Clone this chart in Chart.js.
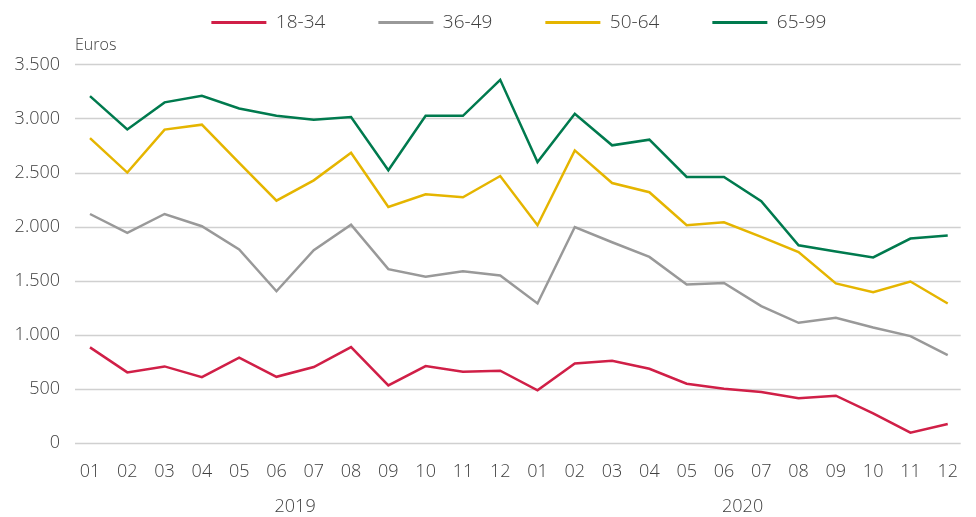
<!DOCTYPE html>
<html>
<head>
<meta charset="utf-8">
<script src="https://cdn.jsdelivr.net/npm/chart.js@4.4.0/dist/chart.umd.min.js"></script>
<style>
  html, body { margin: 0; padding: 0; background: #fff; }
  #wrap { width: 976px; height: 517px; }
</style>
</head>
<body>
<div id="wrap"><canvas id="ageChart"></canvas></div>
<script>
const months = ["01","02","03","04","05","06","07","08","09","10","11","12",
                "01","02","03","04","05","06","07","08","09","10","11","12"];
const years = ["2019", "2020"];
const yTicks = [0, 500, 1000, 1500, 2000, 2500, 3000, 3500];

const age18_34 = [884, 653, 708, 609, 788, 612, 702, 886, 533, 711, 658, 668,
                  487, 736, 760, 686, 548, 501, 471, 413, 437, 274, 95, 175];
const age36_49 = [2117, 1942, 2117, 2004, 1789, 1403, 1782, 2019, 1607, 1536, 1588, 1548,
                  1290, 1997, 1856, 1720, 1465, 1480, 1265, 1111, 1157, 1068, 988, 812];
const age50_64 = [2819, 2500, 2897, 2943, 2590, 2241, 2428, 2684, 2182, 2299, 2271, 2468,
                  2013, 2705, 2403, 2318, 2013, 2041, 1905, 1766, 1475, 1394, 1493, 1290];
const age65_99 = [3207, 2899, 3149, 3210, 3093, 3025, 2989, 3013, 2521, 3025, 3025, 3358,
                  2597, 3044, 2752, 2804, 2459, 2459, 2235, 1828, 1770, 1715, 1890, 1918];

const textColor = "#404040";
const fontFamily = "'Open Sans', 'Noto Sans', sans-serif";

// horizontal grid lines run a bit wider than the data, plus the "Euros" label
const gridAndUnit = {
  id: "gridAndUnit",
  beforeDatasetsDraw(chart) {
    const ctx = chart.ctx;
    const y = chart.scales.y;
    const area = chart.chartArea;
    ctx.save();
    ctx.strokeStyle = "#d0d0d0";
    ctx.lineWidth = 1.5;
    y.ticks.forEach(function (t) {
      const py = Math.round(y.getPixelForValue(t.value)) + 0.5;
      ctx.beginPath();
      ctx.moveTo(area.left - 15, py);
      ctx.lineTo(area.right + 13, py);
      ctx.stroke();
    });
    ctx.fillStyle = textColor;
    ctx.font = "300 16px " + fontFamily;
    ctx.textAlign = "left";
    ctx.textBaseline = "middle";
    ctx.fillText("Euros", area.left - 15, area.top - 19);
    ctx.restore();
  },
};

const ctx = document.getElementById("ageChart").getContext("2d");
new Chart(ctx, {
  type: "line",
  data: {
    labels: months,
    datasets: [
      { label: "18-34", data: age18_34, borderColor: "#d01f47", backgroundColor: "#d01f47" },
      { label: "36-49", data: age36_49, borderColor: "#999999", backgroundColor: "#999999" },
      { label: "50-64", data: age50_64, borderColor: "#e5b500", backgroundColor: "#e5b500" },
      { label: "65-99", data: age65_99, borderColor: "#007a4e", backgroundColor: "#007a4e" },
    ],
  },
  options: {
    responsive: true,
    maintainAspectRatio: false,
    animation: false,
    // negative top padding: the wide legend padding would otherwise push it down
    layout: { padding: { top: -40, right: 16, bottom: 0, left: 0 } },
    elements: {
      line: { borderWidth: 2.5, tension: 0 },
      point: { radius: 0 },
    },
    plugins: {
      legend: {
        position: "top",
        fullSize: false,
        labels: {
          usePointStyle: true,
          pointStyleWidth: 55,
          padding: 53,
          color: textColor,
          font: { family: fontFamily, size: 19, weight: "300" },
          generateLabels(chart) {
            return chart.data.datasets.map((ds, i) => ({
              text: ds.label,
              datasetIndex: i,
              pointStyle: "line",
              strokeStyle: ds.borderColor,
              fillStyle: ds.borderColor,
              lineWidth: 3,
              fontColor: textColor,
              hidden: false,
            }));
          },
        },
      },
      // empty subtitle only keeps a gap between the legend and the plot
      subtitle: {
        display: true,
        text: "",
        position: "top",
        weight: 500,
        font: { size: 12 },
        padding: { top: 0, bottom: 8 },
      },
      tooltip: { enabled: false },
    },
    scales: {
      x: {
        type: "category",
        offset: false,
        grid: { display: false, drawTicks: false },
        border: { display: false },
        ticks: {
          padding: 18,
          maxRotation: 0,
          autoSkip: false,
          color: textColor,
          font: { family: fontFamily, size: 18, weight: "300" },
        },
        afterFit(scale) { scale.height = 38; },
      },
      year: {
        type: "linear",
        position: "bottom",
        min: 0,
        max: 23,
        grid: { display: false, drawTicks: false },
        border: { display: false },
        afterBuildTicks(scale) {
          scale.ticks = [{ value: 5.5 }, { value: 17.5 }];
        },
        ticks: {
          padding: 15,
          color: textColor,
          font: { family: fontFamily, size: 18, weight: "300" },
          callback: (v) => years[v < 12 ? 0 : 1],
        },
        afterFit(scale) { scale.height = 36; },
      },
      y: {
        min: 0,
        max: 3500,
        afterBuildTicks(scale) {
          scale.ticks = yTicks.map((v) => ({ value: v }));
        },
        grid: { display: false, drawTicks: false },
        border: { display: false },
        ticks: {
          padding: 30,
          color: textColor,
          font: { family: fontFamily, size: 18, weight: "300" },
          callback: (v) => v.toLocaleString("de-DE"),
        },
        afterFit(scale) { scale.width = 90; },
      },
    },
  },
  plugins: [gridAndUnit],
});
</script>
</body>
</html>
